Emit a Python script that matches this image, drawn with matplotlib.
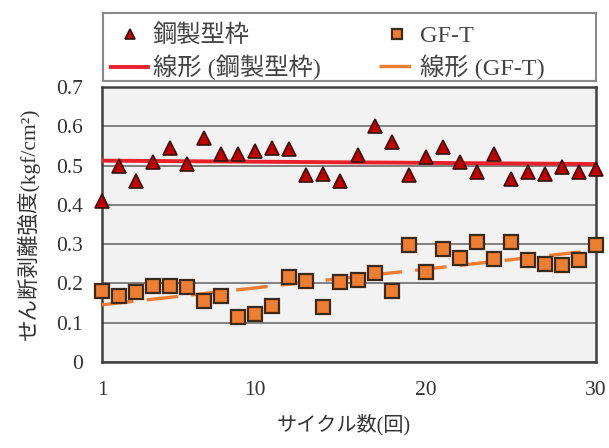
import numpy as np
import matplotlib
matplotlib.use("Agg")
import matplotlib.pyplot as plt
from matplotlib.patches import Rectangle

plt.rcParams['font.family'] = ['Liberation Serif', 'Noto Sans CJK JP']

# ---- data ----
cycles = list(range(1, 31))
steel = [0.41, 0.50, 0.46, 0.51, 0.545, 0.505, 0.57, 0.53, 0.53, 0.536,
         0.545, 0.541, 0.475, 0.479, 0.46, 0.527, 0.60, 0.559, 0.477, 0.521,
         0.548, 0.509, 0.483, 0.53, 0.466, 0.483, 0.479, 0.496, 0.483, 0.49]
gft = [0.182, 0.168, 0.178, 0.193, 0.193, 0.191, 0.156, 0.168, 0.114, 0.122,
       0.142, 0.216, 0.206, 0.139, 0.204, 0.208, 0.226, 0.180, 0.297, 0.230,
       0.287, 0.265, 0.305, 0.261, 0.305, 0.260, 0.249, 0.247, 0.260, 0.297]
xticks = [1, 10, 20, 30]
yticks = [0, 0.1, 0.2, 0.3, 0.4, 0.5, 0.6, 0.7]
ytick_labels = ['0', '0.1', '0.2', '0.3', '0.4', '0.5', '0.6', '0.7']
labels = ['鋼製型枠', '線形 (鋼製型枠)', 'GF-T', '線形 (GF-T)']
xlabel = 'サイクル数(回)'
ylabel = 'せん断剥離強度(kgf/cm²)'

fig = plt.figure(figsize=(6.09, 4.48), dpi=100)
ax = fig.add_axes([102/609, 1-362/448, 494/609, 275/448])
ax.set_facecolor('#f2f2f2')

x = np.array(cycles, dtype=float)
p_s = np.polyfit(x, steel, 1)
p_g = np.polyfit(x, gft, 1)

ax.grid(axis='y', color='#7f7f7f', linewidth=1.4, zorder=1)
ax.set_axisbelow(True)

l_steel_fit, = ax.plot(x, np.polyval(p_s, x), color='#e8202a', linewidth=2.8, zorder=3)
l_gft_fit, = ax.plot(x, np.polyval(p_g, x), color='#ed7d31', linewidth=2.4,
                     dashes=(9.5, 4), zorder=3)
h_steel, = ax.plot(x, steel, linestyle='none', marker='^', markersize=9.5,
                   markerfacecolor='#c00000', markeredgecolor='#3a1010',
                   markeredgewidth=1.2, zorder=4, clip_on=False)
h_gft, = ax.plot(x, gft, linestyle='none', marker='s', markersize=9.5,
                 markerfacecolor='#ed7d31', markeredgecolor='#3b2a1a',
                 markeredgewidth=1.6, zorder=4, clip_on=False)

ax.set_xlim(1, 30)
ax.set_ylim(0, 0.7)
ax.set_xticks(xticks)
ax.set_yticks(yticks)
ax.set_yticklabels(ytick_labels)
ax.tick_params(axis='both', length=0, labelsize=15.5, colors='#333333')
ax.tick_params(axis='y', pad=14)
ax.tick_params(axis='x', pad=14)
for s in ax.spines.values():
    s.set_color('#404040')
    s.set_linewidth(1.8)

ax.set_xlabel(xlabel, fontsize=14.5, color='#333333')
ax.set_ylabel(ylabel, fontsize=15.5, color='#333333')
ax.xaxis.set_label_coords(0.49, -0.19)
ax.yaxis.set_label_coords(-0.125, 0.5)

# legend
leg = fig.legend([h_steel, l_steel_fit, h_gft, l_gft_fit], labels, ncol=2,
                 loc='upper left', bbox_to_anchor=(104/609, 1-17/448),
                 frameon=False, fontsize=17.5, handlelength=1.5,
                 handletextpad=0.2, columnspacing=2.4, labelspacing=0.3,
                 markerscale=0.8, borderpad=0.3, borderaxespad=0)
for t in leg.get_texts():
    t.set_color('#444444')
fig.patches.append(Rectangle((102.5/609, 1-81.5/448), 493.5/609, 68/448,
                             transform=fig.transFigure, fill=False,
                             edgecolor='#8a8a8a', linewidth=1.5))

fig.savefig('out.png', dpi=100)
